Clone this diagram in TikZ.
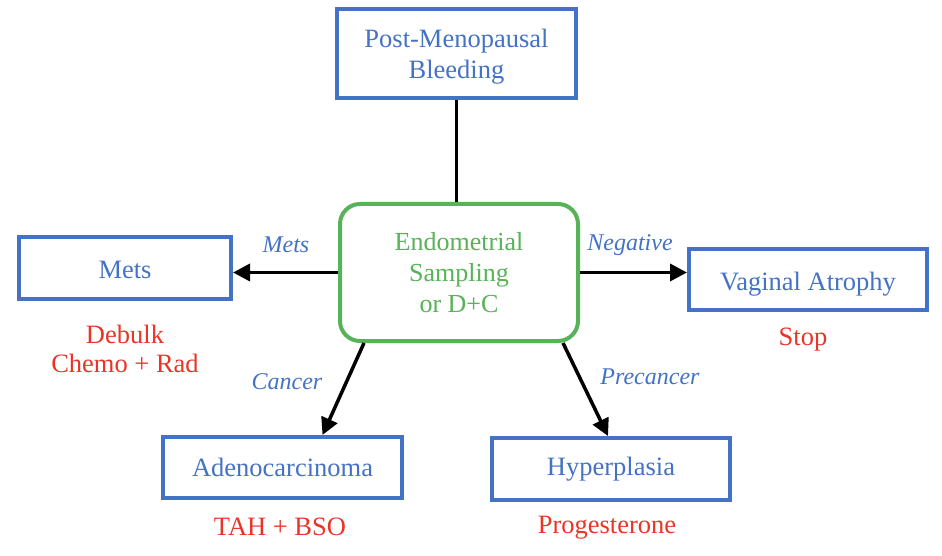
\documentclass[tikz,border=0pt]{standalone}
\usepackage{fontspec}
\setmainfont{Liberation Serif}
\usetikzlibrary{arrows.meta}
\definecolor{bxblue}{RGB}{68,114,196}
\definecolor{bxgreen}{RGB}{88,178,88}
\definecolor{txred}{RGB}{234,52,40}
\tikzset{
  bluebox/.style={draw=bxblue, line width=4pt, text=bxblue, align=center, inner sep=0pt,
    font=\fontsize{26.5}{31}\selectfont},
  lowtext/.style={text height=24pt, text depth=3pt},
  greenbox/.style={draw=bxgreen, line width=4pt, text=bxgreen, align=center, inner sep=0pt,
    rounded corners=20pt, font=\fontsize{26}{31}\selectfont},
  edgelbl/.style={text=bxblue, inner sep=0pt, font=\fontsize{24}{27}\selectfont\itshape},
  treat/.style={text=txred, inner sep=0pt, align=center, font=\fontsize{26.5}{29}\selectfont},
  conn/.style={line width=3.5pt, black},
  arr/.style={conn, -{Triangle[length=17pt,width=17pt]}}
}
\begin{document}
\begin{tikzpicture}[x=1pt,y=-1pt]
\fill[white] (0,0) rectangle (942,556);
\useasboundingbox (0,0) rectangle (942,556);
\node[bluebox, text depth=0pt, minimum width=239pt, minimum height=89pt] (pmb) at (456.5,53.5) {Post-Menopausal\\Bleeding};
\node[greenbox, minimum width=238pt, minimum height=137pt] (es) at (459,272.5) {Endometrial\\Sampling\\or D+C};
\node[bluebox, lowtext, minimum width=212pt, minimum height=62pt] (mets) at (125,268) {Mets};
\node[bluebox, lowtext, minimum width=238pt, minimum height=61pt] (va) at (808,279.5) {Vaginal Atrophy};
\node[bluebox, minimum width=239pt, minimum height=61pt] (adeno) at (282.5,467.5) {Adenocarcinoma};
\node[bluebox, minimum width=238pt, minimum height=62pt] (hyper) at (611,469) {Hyperplasia};

\draw[conn] (pmb.south) -- (pmb.south |- es.north);
\draw[arr] (es.west) -- (es.west -| mets.east);
\draw[arr] (es.east) -- (es.east -| va.west);
\draw[arr] ([xshift=-95pt]es.south) -- ([xshift=40pt]adeno.north);
\draw[arr] ([xshift=104pt]es.south) -- ([xshift=-3pt]hyper.north);

\node[edgelbl] (lmets) at (286,245) {Mets};
\node[edgelbl] (lneg) at (630,245) {Negative};
\node[edgelbl] (lcan) at (287,382) {Cancer};
\node[edgelbl] (lpre) at (650,377) {Precancer};

\node[treat] (tmets) at (125,349) {Debulk\\Chemo + Rad};
\node[treat] (tva) at (803,340) {Stop};
\node[treat] (tadeno) at (280,527) {TAH + BSO};
\node[treat] (thyper) at (607,528) {Progesterone};
\end{tikzpicture}
\end{document}
